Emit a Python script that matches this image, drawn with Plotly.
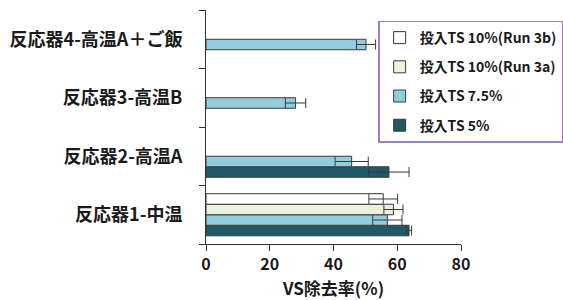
import plotly.graph_objects as go

categories = ["反応器1-中温", "反応器2-高温A", "反応器3-高温B", "反応器4-高温A＋ご飯"]
series_names = ["投入TS 5%", "投入TS 7.5%", "投入TS 10%(Run 3a)", "投入TS 10%(Run 3b)"]
vals_ts5 = [63.7, 57.4, None, None]
err_ts5 = [0.8, 6.3, None, None]
vals_ts75 = [56.9, 45.7, 28.1, 50.2]
err_ts75 = [4.6, 5.2, 3.2, 3.0]
vals_run3a = [58.8, None, None, None]
err_run3a = [3.0, None, None, None]
vals_run3b = [55.6, None, None, None]
err_run3b = [4.5, None, None, None]
x_ticks = [0, 20, 40, 60, 80]

colors = ["#215968", "#93cddd", "#ebf1de", "#ffffff"]
values = [vals_ts5, vals_ts75, vals_run3a, vals_run3b]
errors = [err_ts5, err_ts75, err_run3a, err_run3b]

FONT = "Noto Sans CJK JP"

fig = go.Figure()
for i, (name, v, e, c) in enumerate(zip(series_names, values, errors, colors)):
    fig.add_trace(go.Bar(
        y=categories, x=v, name=name, orientation="h",
        legendgroup=f"g{i}", legendrank=10 - i,
        marker=dict(color=c, line=dict(color="#3a3a3a", width=1)),
        error_x=dict(type="data", array=e, visible=True, color="#3a3a3a",
                     thickness=1, width=5),
    ))

fig.update_layout(
    width=563, height=300,
    margin=dict(l=206, r=102, t=10, b=56, autoexpand=False),
    paper_bgcolor="white", plot_bgcolor="white",
    barmode="group", bargap=0.28, bargroupgap=0,
    font=dict(family=FONT, color="#1a1a1a"),
    showlegend=True,
    legend=dict(
        x=0.675, y=0.955, xanchor="left", yanchor="top",
        traceorder="grouped", tracegroupgap=8, itemwidth=30,
        bordercolor="#9e80c2", borderwidth=1.5, bgcolor="white",
        font=dict(family=FONT, size=14, color="#1a1a1a", weight="bold"),
    ),
)
fig.update_xaxes(
    range=[0, 80], tickvals=x_ticks, showgrid=False, zeroline=False,
    showline=True, linecolor="#333", linewidth=1,
    ticks="outside", ticklen=6, tickcolor="#333", automargin=False,
    tickfont=dict(family=FONT, size=16, weight="bold"),
    title=dict(text="<b>VS除去率(%)</b>", font=dict(family=FONT, size=17), standoff=2),
)
fig.update_yaxes(
    type="category", categoryorder="array", categoryarray=categories,
    showgrid=False, zeroline=False, automargin=False,
    showline=True, linecolor="#333", linewidth=1,
    ticks="outside", ticklen=6, tickcolor="#333", tickson="boundaries",
    tickfont=dict(family=FONT, size=18, weight="bold"),
    ticklabelstandoff=19,
)

fig.write_html(
    "out.html",
    config={"displayModeBar": False},
    post_script="document.body.style.margin='0';document.body.style.overflow='hidden';",
)
